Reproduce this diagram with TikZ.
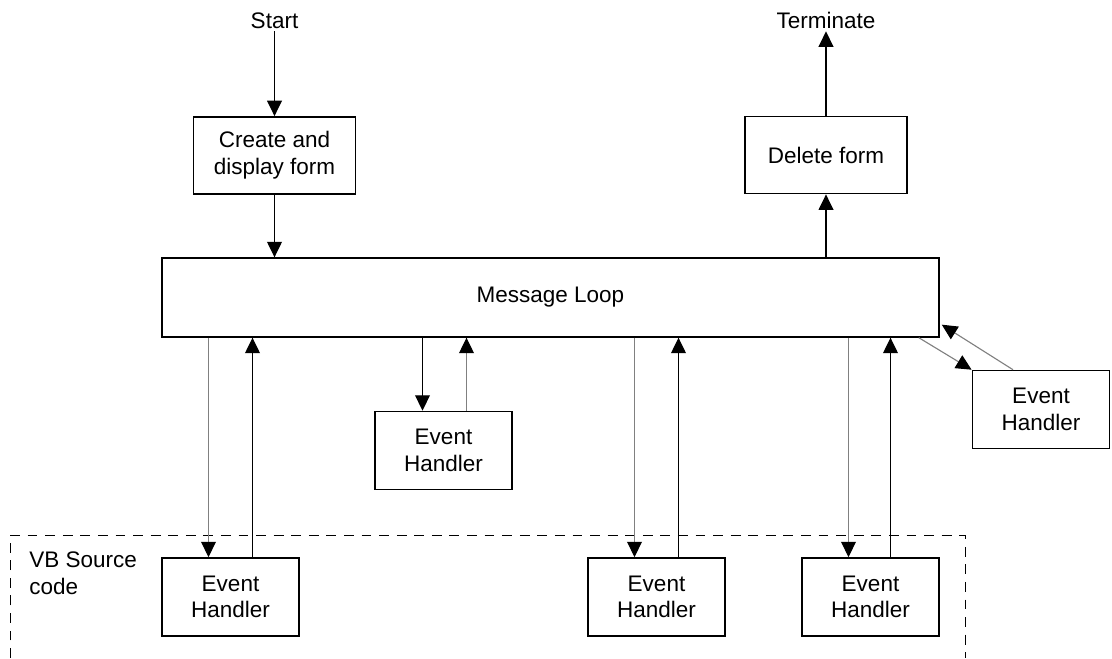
\documentclass[tikz,border=0pt]{standalone}
\usepackage{fontspec}
\setmainfont{Liberation Sans}
\usepackage{tikz}
\usetikzlibrary{arrows.meta,calc,positioning}

\begin{document}
\begin{tikzpicture}[
    x=0.025cm, y=-0.025cm,
    font=\fontsize{16}{19}\selectfont,
    box/.style={draw, line width=1.1pt, align=center, minimum width=4.05cm, minimum height=1.93cm},
    evh/.style={draw, line width=1.1pt, align=center, minimum width=3.43cm, minimum height=1.95cm},
    lbl/.style={inner sep=2pt},
    flow/.style={line width=0.9pt, -{Triangle[length=11pt, width=10.5pt]}},
    gflow/.style={draw=black!50, line width=0.8pt, -{Triangle[length=11pt, width=10.5pt, color=black]}}
]
\useasboundingbox (0,0) rectangle (1112,658);

% ---- Start / Terminate ----
\node[lbl, anchor=base] (start) at (274.5,28) {Start};
\node[lbl, anchor=base] (term) at (826,28) {Terminate};

% ---- Form boxes ----
\node[box] (create) at (274.5,155.5) {Create and\\ display form};
\node[box] (delete) at (826,155) {Delete form};

% ---- Message Loop ----
\node[draw, line width=1.1pt, minimum width=19.42cm, minimum height=1.97cm] (loop) at (550.5,297.5) {Message Loop};

% ---- Event Handlers ----
\node[evh] (ehM) at (443.5,450.5) {Event\\ Handler};
\node[evh] (ehR) at (1041,409.5) {Event\\ Handler};
\node[evh] (ehA) at (230.5,597) {Event\\ Handler};
\node[evh] (ehB) at (656.5,597) {Event\\ Handler};
\node[evh] (ehC) at (870.5,597) {Event\\ Handler};

% ---- VB Source code ----
\draw[line width=0.7pt, dash pattern=on 7pt off 5.5pt] (10,658) |- (965,535) -- (965,658);
\node[anchor=north west, inner sep=0pt, align=left] (vbsrc) at (29,552) {VB Source\\ code};

% Relations
\draw[flow] (start.south) -- (create.north);
\draw[flow] (create.south) -- (create.south |- loop.north);
\draw[flow] (delete.south |- loop.north) -- (delete.south);
\draw[flow] (delete.north) -- (term.south);

\path (ehA.north) ++(-22,0) coordinate (ehAin) ++(44,0) coordinate (ehAout);
\path (ehB.north) ++(-22,0) coordinate (ehBin) ++(44,0) coordinate (ehBout);
\path (ehC.north) ++(-22,0) coordinate (ehCin) ++(42,0) coordinate (ehCout);
\path (ehM.north) ++(-21,0) coordinate (ehMin) ++(44,0) coordinate (ehMout);
\foreach \eh in {ehA,ehB,ehC} {
    \draw[gflow] (\eh in |- loop.south) -- (\eh in);
    \draw[flow] (\eh out) -- (\eh out |- loop.south);
}
\draw[flow] (ehMin |- loop.south) -- (ehMin);
\draw[gflow] (ehMout) -- (ehMout |- loop.south);

\draw[gflow] ($(loop.south east)+(-21,0)$) -- (ehR.north west);
\draw[gflow] ($(ehR.north)+(-28,0)$) -- ($(loop.south east)+(2,-13)$);
\end{tikzpicture}
\end{document}
